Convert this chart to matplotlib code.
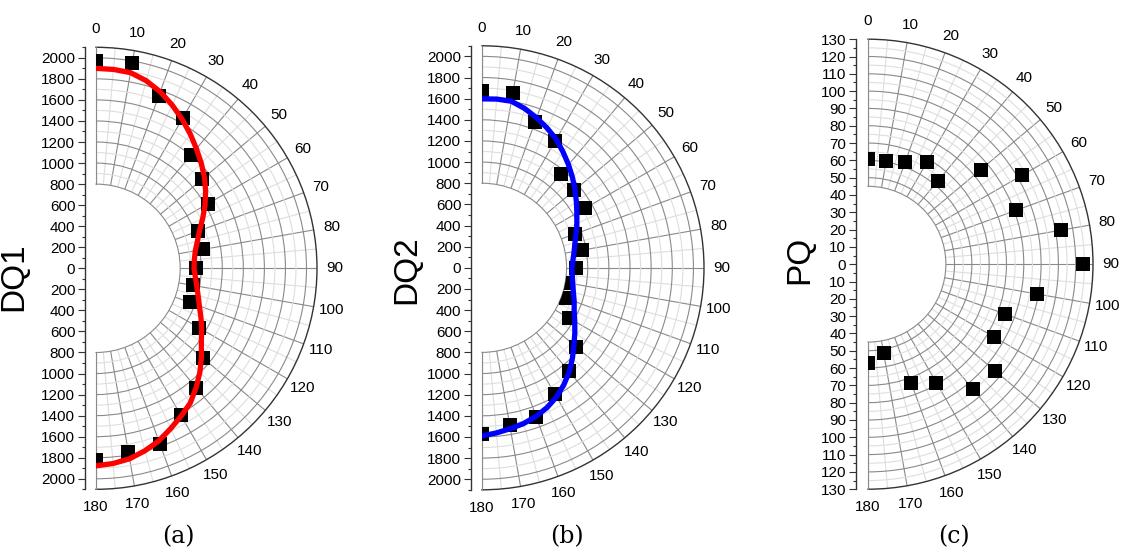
import numpy as np
import matplotlib
matplotlib.use("Agg")
import matplotlib.pyplot as plt
from matplotlib.ticker import FuncFormatter

# ---- data ----
angles = list(range(0, 181, 10))
angle_labels = [str(a) for a in angles]
fit_angles = list(range(0, 181, 5))

dq1_points = [1970, 1980, 1745, 1650, 1400, 1315, 1230, 1035, 1037, 950,
              940, 950, 1135, 1330, 1480, 1607, 1775, 1770, 1825]
dq1_fit = [1900, 1897, 1888, 1845, 1785, 1712, 1636, 1560, 1484, 1414,
           1345, 1272, 1196, 1118, 1047, 998, 958, 938, 931, 948,
           972, 1005, 1045, 1100, 1160, 1222, 1308, 1396, 1480, 1562,
           1620, 1680, 1745, 1795, 1838, 1862, 1877]

dq2_points = [1670, 1675, 1472, 1380, 1160, 1140, 1123, 938, 958, 890,
              825, 847, 950, 1162, 1280, 1374, 1500, 1507, 1575]
dq2_fit = [1598, 1602, 1600, 1560, 1510, 1458, 1404, 1337, 1273, 1210,
           1148, 1090, 1036, 990, 947, 910, 885, 864, 851, 857,
           872, 895, 928, 962, 1013, 1072, 1135, 1210, 1285, 1350,
           1410, 1458, 1495, 1525, 1545, 1568, 1590]

pq_points = [61, 60.5, 63, 68, 63, 85, 103, 91, 113.5, 124,
             99, 84, 84, 96, 94, 79, 73, 52, 57]

W, H = 1128, 553
plt.rcParams["font.family"] = ["Liberation Sans", "DejaVu Sans"]

DARK = "#8a8a8a"
LIGHT = "#dedede"


def px_rect(x0, y_top, w, h):
    return [x0 / W, 1 - (y_top + h) / H, w / W, h / H]


def draw_panel(fig, cx, cy, R, axis_x, rmin, rmax, major_c, minor_c,
               lab_major, lab_minor, points, fit=None, fit_color=None):
    # the half wedge sits in the middle of a square box
    ax = fig.add_axes(px_rect(cx - R / 2, cy - R, 2 * R, 2 * R),
                      projection="polar")
    ax.set_theta_zero_location("N")
    ax.set_theta_direction(-1)
    ax.set_thetamin(0)
    ax.set_thetamax(180)
    ax.set_rlim(rmin, rmax)
    ax.set_rorigin(0)

    # radial grid circles
    ax.set_yticks(major_c)
    ax.set_yticks(minor_c, minor=True)
    ax.set_yticklabels([])
    ax.tick_params(axis="y", which="both", length=0)
    ax.yaxis.grid(True, which="major", color=DARK, lw=0.8)
    ax.yaxis.grid(True, which="minor", color=LIGHT, lw=0.8)

    # angular grid
    th = np.deg2rad(angles)
    ax.set_xticks(th)
    ax.set_xticklabels(angle_labels)
    ax.set_xticks(np.deg2rad(np.arange(5, 180, 10)), minor=True)
    ax.xaxis.grid(True, which="major", color=DARK, lw=0.8)
    ax.xaxis.grid(True, which="minor", color=LIGHT, lw=0.8)
    ax.tick_params(axis="x", which="major", direction="out", length=4,
                   width=0.8, pad=2, labelsize=11, color="#333333")
    ax.tick_params(axis="x", which="minor", direction="out", length=2.5,
                   width=0.8, color="#333333")

    ax.spines["polar"].set_color("#333333")
    ax.spines["polar"].set_linewidth(1.0)
    for s in ("inner", "start", "end"):
        ax.spines[s].set_color(DARK)
        ax.spines[s].set_linewidth(0.8)

    ax.plot(th, points, ls="none", marker="s", ms=9.8, mew=0,
            color="black", zorder=4)
    if fit is not None:
        ax.plot(np.deg2rad(fit_angles), fit, color=fit_color, lw=3.8,
                zorder=5)

    # linear scale on the left, 0 at centre, |value| labels
    lax = fig.add_axes(px_rect(axis_x - 1, cy - R, 1, 2 * R))
    lax.patch.set_visible(False)
    for s in ("top", "right", "bottom"):
        lax.spines[s].set_visible(False)
    lax.spines["left"].set_color("#333333")
    lax.spines["left"].set_linewidth(1.0)
    lax.set_xticks([])
    lax.set_ylim(-rmax, rmax)
    lax.set_yticks(lab_major)
    lax.set_yticks(lab_minor, minor=True)
    lax.yaxis.set_major_formatter(FuncFormatter(lambda v, p: f"{abs(v):g}"))
    lax.tick_params(axis="y", which="major", length=5, width=0.8, pad=2,
                    labelsize=11, color="#333333")
    lax.tick_params(axis="y", which="minor", length=2.5, width=0.8,
                    color="#333333")
    return ax


fig = plt.figure(figsize=(W / 100, H / 100), dpi=100)

big_major = np.arange(1000, 2001, 200)
big_minor = np.arange(900, 2001, 200)
big_lab = np.arange(-2000, 2001, 200)
big_lab_minor = np.arange(-2100, 2101, 100)

draw_panel(fig, 96, 268.3, 221, 86, 800, 2100, big_major, big_minor,
           big_lab, big_lab_minor, dq1_points, dq1_fit, "#ff0000")
draw_panel(fig, 482, 267.8, 222, 472, 800, 2100, big_major, big_minor,
           big_lab, big_lab_minor, dq2_points, dq2_fit, "#0000ff")
draw_panel(fig, 868, 264.2, 225, 857, 45, 130,
           np.arange(50, 121, 10), np.arange(55, 126, 10),
           np.arange(-130, 131, 10), np.arange(-130, 131, 5), pq_points)

for x, y, s in [(14, 277, "DQ1"), (407, 270, "DQ2"), (800, 260, "PQ")]:
    fig.text(x / W, 1 - y / H, s, rotation=90, fontsize=24,
             ha="center", va="center")

for x, s in [(178, "(a)"), (567, "(b)"), (954, "(c)")]:
    fig.text(x / W, 1 - 537 / H, s, fontsize=17, ha="center", va="center",
             family=["DejaVu Serif"])

fig.savefig("out.png", dpi=100)
